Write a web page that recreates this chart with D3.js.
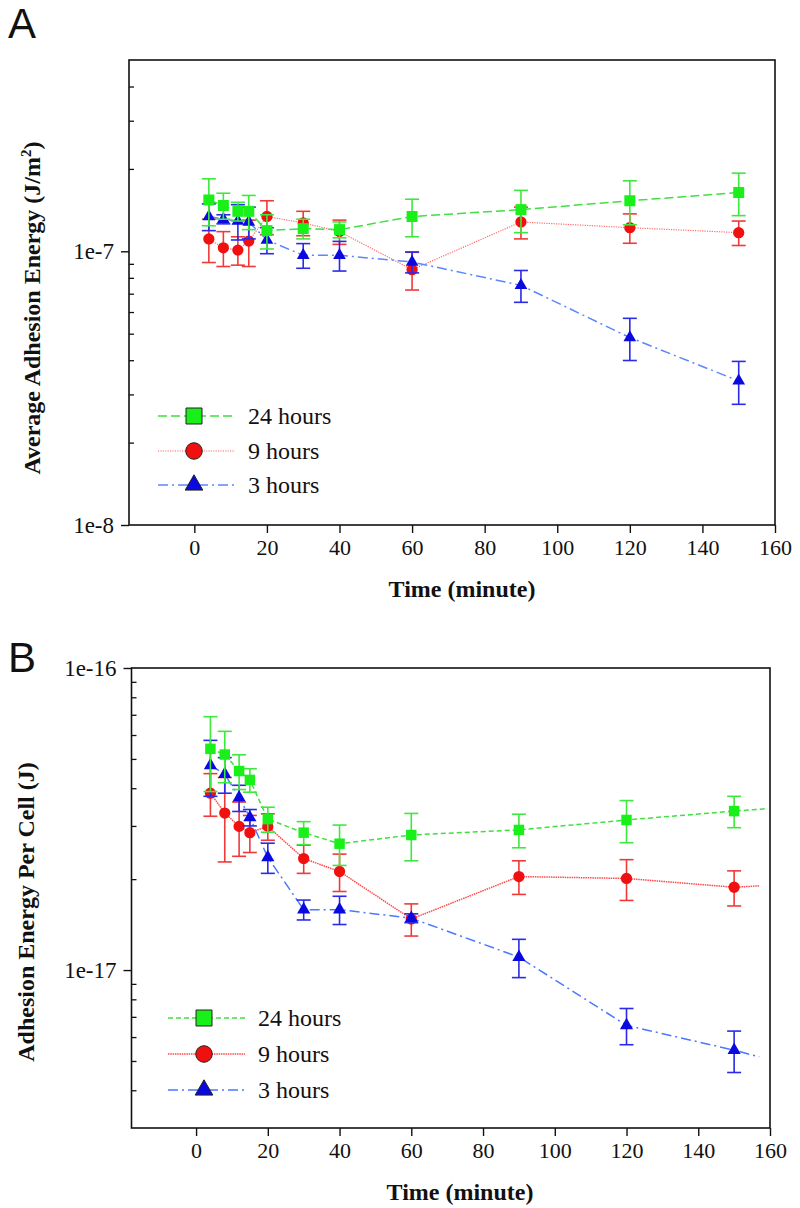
<!DOCTYPE html>
<html><head><meta charset="utf-8">
<script src="https://cdn.jsdelivr.net/npm/d3@7"></script>
<style>body{margin:0;background:#fff}</style>
</head><body><svg id="c" width="800" height="1208"></svg>
<script>
// ---------- data ----------
const times = [4, 8, 12, 15, 20, 30, 40, 60, 90, 120, 150];
const seriesNames = ["24 hours", "9 hours", "3 hours"];
const xTicks = [0, 20, 40, 60, 80, 100, 120, 140, 160];

// Panel A: average adhesion energy (J/m^2)
const a24 = [1.54e-7, 1.47e-7, 1.40e-7, 1.40e-7, 1.19e-7, 1.21e-7, 1.20e-7, 1.34e-7, 1.42e-7, 1.53e-7, 1.64e-7];
const a24Err = [0.30e-7, 0.16e-7, 0.11e-7, 0.20e-7, 0.17e-7, 0.10e-7, 0.08e-7, 0.21e-7, 0.25e-7, 0.28e-7, 0.29e-7];
const a9 = [1.11e-7, 1.03e-7, 1.01e-7, 1.09e-7, 1.34e-7, 1.27e-7, 1.18e-7, 0.857e-7, 1.28e-7, 1.22e-7, 1.17e-7];
const a9Err = [0.20e-7, 0.15e-7, 0.12e-7, 0.21e-7, 0.19e-7, 0.13e-7, 0.12e-7, 0.135e-7, 0.17e-7, 0.15e-7, 0.12e-7];
const a3 = [1.34e-7, 1.31e-7, 1.29e-7, 1.28e-7, 1.10e-7, 0.967e-7, 0.967e-7, 0.914e-7, 0.751e-7, 0.484e-7, 0.336e-7];
const a3Err = [0.15e-7, 0.05e-7, 0.19e-7, 0.17e-7, 0.12e-7, 0.10e-7, 0.12e-7, 0.08e-7, 0.10e-7, 0.085e-7, 0.06e-7];
const aYDomain = [1e-8, 5e-7];
const aYMajor = [1e-8, 1e-7];
const aYMinor = [2e-8, 3e-8, 4e-8, 5e-8, 6e-8, 7e-8, 8e-8, 9e-8, 2e-7, 3e-7, 4e-7];
const aYLabels = ["1e-8", "1e-7"];

// Panel B: adhesion energy per cell (J)
const b24 = [5.40e-17, 5.17e-17, 4.56e-17, 4.26e-17, 3.16e-17, 2.85e-17, 2.62e-17, 2.80e-17, 2.91e-17, 3.14e-17, 3.36e-17];
const b24Err = [1.5e-17, 1.0e-17, 0.6e-17, 0.38e-17, 0.3e-17, 0.25e-17, 0.4e-17, 0.5e-17, 0.37e-17, 0.5e-17, 0.4e-17];
const b9 = [3.85e-17, 3.31e-17, 2.99e-17, 2.85e-17, 2.99e-17, 2.34e-17, 2.12e-17, 1.476e-17, 2.04e-17, 2.01e-17, 1.88e-17];
const b9Err = [0.62e-17, 1.03e-17, 0.61e-17, 0.40e-17, 0.30e-17, 0.25e-17, 0.30e-17, 0.18e-17, 0.26e-17, 0.31e-17, 0.25e-17];
const b3 = [4.76e-17, 4.45e-17, 3.72e-17, 3.20e-17, 2.36e-17, 1.585e-17, 1.585e-17, 1.485e-17, 1.104e-17, 0.656e-17, 0.543e-17];
const b3Err = [1.0e-17, 0.6e-17, 0.37e-17, 0.2e-17, 0.27e-17, 0.12e-17, 0.17e-17, 0.05e-17, 0.16e-17, 0.09e-17, 0.085e-17];
// line continuation past last point (panel B)
const bTailX = [159, 157, 157];
const bTailY = [3.42e-17, 1.90e-17, 5.16e-18];
const bYDomain = [3e-18, 1e-16];
const bYMajor = [1e-17, 1e-16];
const bYMinor = [4e-18, 5e-18, 6e-18, 7e-18, 8e-18, 9e-18, 2e-17, 3e-17, 4e-17, 5e-17, 6e-17, 7e-17, 8e-17, 9e-17];
const bYLabels = ["1e-17", "1e-16"];

// ---------- styles ----------
const styleA = [
  {line: "#3fe03f", dash: "9,4", lw: 1.5, fill: "#19f019", err: "#3ee83e", sym: d3.symbolSquare, size: 121, lsize: 256},
  {line: "#ff6b6b", dash: "1.2,1.2", lw: 1.2, fill: "#f01010", err: "#f03a3a", sym: d3.symbolCircle, size: 100, lsize: 215},
  {line: "#5a86ff", dash: "10,4,2,4", lw: 1.5, fill: "#0a0ae0", err: "#2a2ae8", sym: d3.symbolTriangle, size: 70, lsize: 135}
];
const styleB = [
  {line: "#3fe03f", dash: "5,3", lw: 1.5, fill: "#19f019", err: "#3ee83e", sym: d3.symbolSquare, size: 110, lsize: 256},
  {line: "#ff4a4a", dash: "1.5,0.8", lw: 1.5, fill: "#f01010", err: "#f03a3a", sym: d3.symbolCircle, size: 100, lsize: 215},
  {line: "#4a78ff", dash: "10,4,2,4", lw: 1.5, fill: "#0a0ae0", err: "#2a2ae8", sym: d3.symbolTriangle, size: 75, lsize: 135}
];
const SERIF = "Liberation Serif";

const svg = d3.select("#c");

function panel(cfg) {
  const x = d3.scaleLinear().domain([-18, 160]).range([cfg.left, cfg.right]);
  const y = d3.scaleLog().domain(cfg.yDomain).range([cfg.bottom, cfg.top]);
  const g = svg.append("g");

  const order = [1, 2, 0];
  order.forEach(i => {
    const vals = cfg.series[i], errs = cfg.errs[i], st = cfg.styles[i];
    const pts = times.map((t, k) => [t, vals[k]]);
    if (cfg.tailX) pts.push([cfg.tailX[i], cfg.tailY[i]]);
    g.append("path")
      .attr("d", d3.line().x(d => x(d[0])).y(d => y(d[1]))(pts))
      .attr("fill", "none").attr("stroke", st.line)
      .attr("stroke-width", st.lw).attr("stroke-dasharray", st.dash);
    const eg = g.append("g").attr("stroke", st.err).attr("stroke-width", 1.6);
    times.forEach((t, k) => {
      const cx = x(t), y1 = y(vals[k] + errs[k]), y2 = y(vals[k] - errs[k]);
      eg.append("line").attr("x1", cx).attr("x2", cx).attr("y1", y1).attr("y2", y2);
      eg.append("line").attr("x1", cx - 7).attr("x2", cx + 7).attr("y1", y1).attr("y2", y1);
      eg.append("line").attr("x1", cx - 7).attr("x2", cx + 7).attr("y1", y2).attr("y2", y2);
    });
    g.append("g").selectAll("path").data(times).join("path")
      .attr("transform", (t, k) => `translate(${x(t)},${y(vals[k])})`)
      .attr("d", d3.symbol().type(st.sym).size(st.size))
      .attr("fill", st.fill);
  });

  g.append("rect").attr("x", cfg.left).attr("y", cfg.top)
    .attr("width", cfg.right - cfg.left).attr("height", cfg.bottom - cfg.top)
    .attr("fill", "none").attr("stroke", "#111").attr("stroke-width", 1.6);

  const xa = g.append("g").attr("transform", `translate(0,${cfg.bottom})`)
    .call(d3.axisBottom(x).tickValues(xTicks).tickSize(8).tickSizeOuter(0).tickPadding(6));
  xa.select(".domain").remove();
  xa.selectAll("line").attr("stroke", "#111").attr("stroke-width", 1.4);
  xa.selectAll("text").style("font-family", SERIF).style("font-size", "22px").attr("fill", "#111");

  const ya = g.append("g").attr("transform", `translate(${cfg.left},0)`)
    .call(d3.axisLeft(y).tickValues(cfg.yMajor).tickSize(8).tickSizeOuter(0).tickPadding(7)
      .tickFormat((d, i) => cfg.yLabels[i]));
  ya.select(".domain").remove();
  ya.selectAll("line").attr("stroke", "#111").attr("stroke-width", 1.4);
  ya.selectAll("text").style("font-family", SERIF).style("font-size", "23px").attr("fill", "#111");
  const ym = g.append("g").attr("transform", `translate(${cfg.left},0)`)
    .call(d3.axisLeft(y).tickValues(cfg.yMinor).tickSize(-5).tickSizeOuter(0).tickFormat(""));
  ym.select(".domain").remove();
  ym.selectAll("line").attr("stroke", "#111").attr("stroke-width", 1.3);

  g.append("text").attr("x", cfg.xTitleX).attr("y", cfg.bottom + 72)
    .attr("text-anchor", "middle").style("font-family", SERIF).style("font-weight", "bold")
    .style("font-size", "24px").attr("fill", "#111").text("Time (minute)");
  const yt = g.append("text")
    .attr("transform", `translate(${cfg.yTitleX},${cfg.yTitleY}) rotate(-90)`)
    .attr("text-anchor", "middle").style("font-family", SERIF).style("font-weight", "bold")
    .style("font-size", "24px").attr("fill", "#111");
  cfg.yTitle(yt);

  svg.append("text").attr("x", 8).attr("y", cfg.letterY)
    .style("font-family", "Liberation Sans").style("font-size", "42px")
    .attr("fill", "#111").text(cfg.letter);

  seriesNames.forEach((name, i) => {
    const st = cfg.styles[i], ly = cfg.legY[i];
    g.append("line").attr("x1", cfg.legX - 36).attr("x2", cfg.legX + 41)
      .attr("y1", ly).attr("y2", ly).attr("stroke", st.line).attr("stroke-width", st.lw)
      .attr("stroke-dasharray", st.dash);
    g.append("path").attr("transform", `translate(${cfg.legX},${ly})`)
      .attr("d", d3.symbol().type(st.sym).size(st.lsize)())
      .attr("fill", st.fill).attr("stroke", "#222").attr("stroke-width", 1);
    g.append("text").attr("x", cfg.legX + 54).attr("y", ly + 8)
      .style("font-family", SERIF).style("font-size", "24px").attr("fill", "#111").text(name);
  });
}

panel({
  letter: "A", letterY: 38,
  left: 129, right: 775, top: 60, bottom: 525,
  yDomain: aYDomain, yMajor: aYMajor, yMinor: aYMinor, yLabels: aYLabels,
  series: [a24, a9, a3], errs: [a24Err, a9Err, a3Err], styles: styleA,
  xTitleX: 462, yTitleX: 40, yTitleY: 308,
  yTitle: t => { t.append("tspan").text("Average Adhesion Energy (J/m");
                 t.append("tspan").attr("dy", -9).style("font-size", "15px").text("2");
                 t.append("tspan").attr("dy", 9).text(")"); },
  legX: 194, legY: [416, 451, 485]
});
panel({
  letter: "B", letterY: 672,
  left: 131.5, right: 770, top: 668, bottom: 1128,
  yDomain: bYDomain, yMajor: bYMajor, yMinor: bYMinor, yLabels: bYLabels,
  series: [b24, b9, b3], errs: [b24Err, b9Err, b3Err], styles: styleB,
  tailX: bTailX, tailY: bTailY,
  xTitleX: 460, yTitleX: 34, yTitleY: 912,
  yTitle: t => t.text("Adhesion Energy Per Cell (J)"),
  legX: 204, legY: [1018, 1054, 1090]
});
</script></body></html>
